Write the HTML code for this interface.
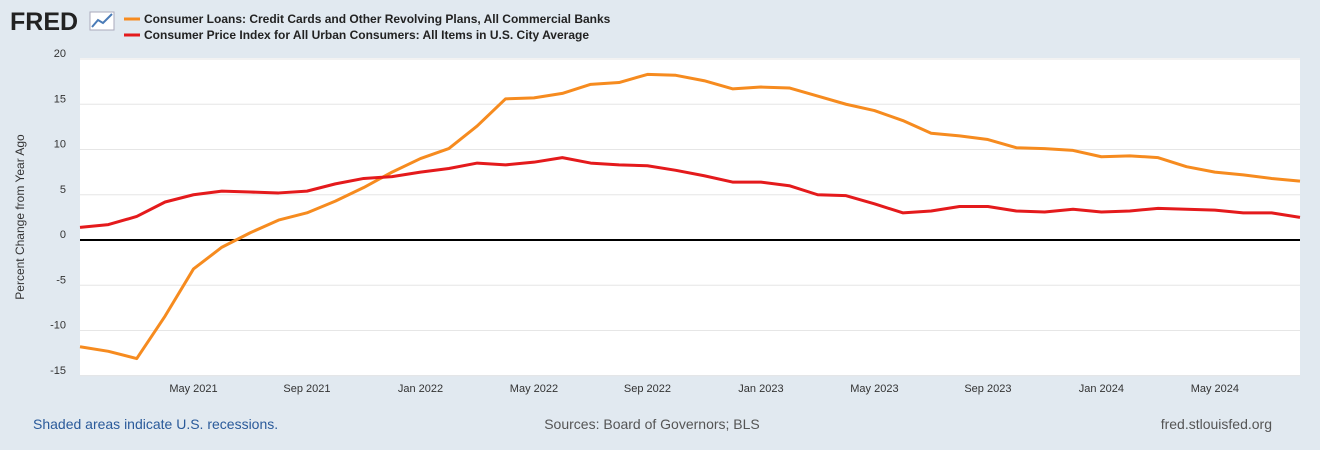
<!DOCTYPE html>
<html><head><meta charset="utf-8"><style>
body{margin:0;background:#e1e9f0;font-family:"Liberation Sans",sans-serif;}
svg{display:block}
</style></head><body>
<svg id="chart" width="1320" height="450">
<rect x="0" y="0" width="1320" height="450" fill="#e1e9f0"/>
<text x="10" y="30" font-size="25" font-weight="bold" fill="#222">FRED</text>
<g><rect x="90" y="12" width="24" height="18" fill="#fff" stroke="#aab"/><polyline points="92,27 98,20 103,23 112,14" fill="none" stroke="#4a7bb7" stroke-width="2"/></g>
<g>
<line x1="124" y1="19" x2="140" y2="19" stroke="#f68b1f" stroke-width="3"/>
<text x="144" y="23" font-size="12" font-weight="bold" fill="#222">Consumer Loans: Credit Cards and Other Revolving Plans, All Commercial Banks</text>
<line x1="124" y1="35" x2="140" y2="35" stroke="#e41a1c" stroke-width="3"/>
<text x="144" y="39" font-size="12" font-weight="bold" fill="#222">Consumer Price Index for All Urban Consumers: All Items in U.S. City Average</text>
</g>
<rect x="80" y="58" width="1220" height="317" fill="#fff"/>
<g id="grid"></g><g id="yticks"></g><g id="xticks"></g><g id="series"></g>
<text transform="translate(24,217) rotate(-90)" font-size="12" fill="#333" text-anchor="middle">Percent Change from Year Ago</text>
<text x="33" y="429" font-size="14" fill="#2a5a9a">Shaded areas indicate U.S. recessions.</text>
<text x="652" y="429" font-size="14" fill="#555" text-anchor="middle">Sources: Board of Governors; BLS</text>
<text x="1272" y="429" font-size="14" fill="#555" text-anchor="end">fred.stlouisfed.org</text>
</svg>
<script>
const yTicks=[20,15,10,5,0,-5,-10,-15];
const xTickLabels=["May 2021","Sep 2021","Jan 2022","May 2022","Sep 2022","Jan 2023","May 2023","Sep 2023","Jan 2024","May 2024"];
const xTickIdx=[4,8,12,16,20,24,28,32,36,40];
const creditCards=[-11.8,-12.3,-13.1,-8.4,-3.2,-0.8,0.8,2.2,3.0,4.3,5.8,7.5,9.0,10.1,12.6,15.6,15.7,16.2,17.2,17.4,18.3,18.2,17.6,16.7,16.9,16.8,15.9,15.0,14.3,13.2,11.8,11.5,11.1,10.2,10.1,9.9,9.2,9.3,9.1,8.1,7.5,7.2,6.8,6.5];
const cpi=[1.4,1.7,2.6,4.2,5.0,5.4,5.3,5.2,5.4,6.2,6.8,7.0,7.5,7.9,8.5,8.3,8.6,9.1,8.5,8.3,8.2,7.7,7.1,6.4,6.4,6.0,5.0,4.9,4.0,3.0,3.2,3.7,3.7,3.2,3.1,3.4,3.1,3.2,3.5,3.4,3.3,3.0,3.0,2.5];
const NS="http://www.w3.org/2000/svg";
const x=i=>80+i*(1220/(creditCards.length-1));
const y=v=>240-v*(181/20);
function mk(tag,attrs,parent){const e=document.createElementNS(NS,tag);for(const k in attrs)e.setAttribute(k,attrs[k]);document.getElementById(parent).appendChild(e);return e;}
yTicks.forEach(v=>{
  const g=mk('line',{x1:80,x2:1300,y1:y(v),y2:y(v),stroke:v===0?'#000':'#e6e6e6','stroke-width':v===0?2:1},'grid');
  
  
  const t=mk('text',{x:66,y:y(v)-2,'font-size':11,fill:'#333','text-anchor':'end'},'yticks');
  t.textContent=v;
  
  
});
xTickIdx.forEach((idx,k)=>{
  const t=mk('text',{x:x(idx),y:392,'font-size':11,fill:'#333','text-anchor':'middle'},'xticks');
  t.textContent=xTickLabels[k];
  
  
});
[[creditCards,'#f68b1f','credit-cards-line'],[cpi,'#e41a1c','cpi-line']].forEach(([d,c,n])=>{
  const p=mk('polyline',{points:d.map((v,i)=>x(i)+','+y(v)).join(' '),fill:'none',stroke:c,'stroke-width':3,'stroke-linejoin':'round'},'series');
  
  
});
</script>
</body></html>
